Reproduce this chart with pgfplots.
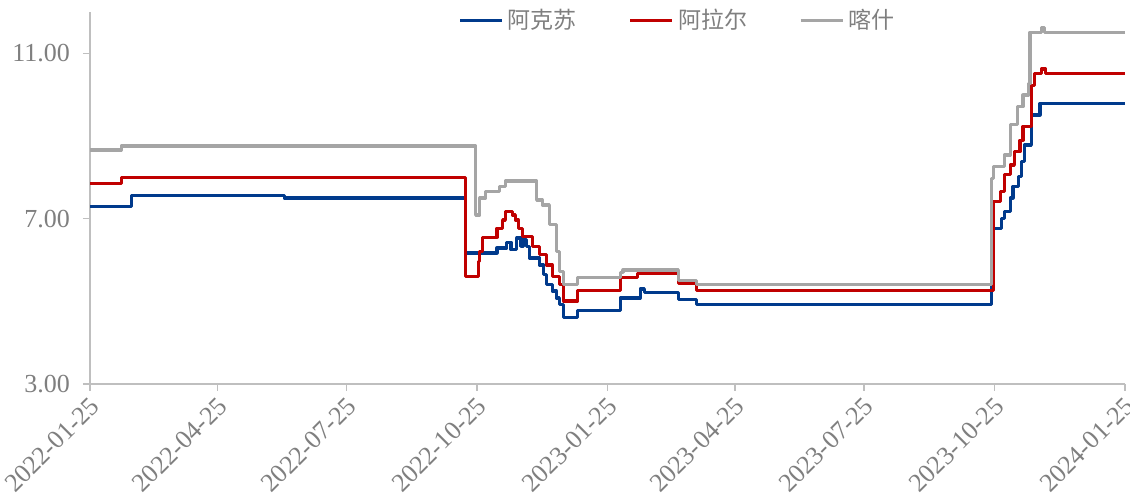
\documentclass[border=0pt]{standalone}
\usepackage{pgfplots}
\pgfplotsset{compat=1.18}
\usepackage{fontspec}
\setmainfont{Liberation Serif}
\newfontfamily\cjk{Noto Sans CJK SC}
\definecolor{cblue}{HTML}{003A8C}
\definecolor{cred}{HTML}{C00000}
\definecolor{cgray}{HTML}{A5A5A5}
\definecolor{axgray}{HTML}{BFBFBF}
\definecolor{txtgray}{HTML}{7F7F7F}
\begin{document}
\begin{tikzpicture}
\begin{axis}[
  at={(45pt,57pt)}, anchor=south west,
  scale only axis, width=517.5pt, height=186pt,
  xmin=0, xmax=730, ymin=3, ymax=12,
  axis x line*=bottom, axis y line*=left,
  axis line style={axgray, line width=0.8pt},
  xtick={0,90,181,273,365,455,546,638,730},
  xticklabels={2022-01-25,2022-04-25,2022-07-25,2022-10-25,2023-01-25,2023-04-25,2023-07-25,2023-10-25,2024-01-25},
  ytick={3,7,11},
  yticklabel style={/pgf/number format/.cd, fixed, fixed zerofill, precision=2, /tikz/.cd},
  /pgf/number format/assume math mode=true,
  tick align=outside, major tick length=3.5pt,
  tick style={axgray, line width=0.8pt},
  ticklabel style={font=\fontsize{13}{15}\selectfont, text=txtgray},
  xticklabel style={rotate=45, anchor=north east, inner sep=1pt, xshift=-1pt},
  yticklabel style={xshift=-3pt},
  legend style={at={(0.35,1.03)}, anchor=north west, draw=none, fill=none,
    legend columns=3, font=\cjk\fontsize{11.5}{13}\selectfont, text=txtgray,
    /tikz/every even column/.append style={column sep=24pt}},
  legend image code/.code={\draw[#1] (0pt,0pt) -- (21pt,0pt);},
  every axis plot/.append style={const plot, line width=1.6pt, line join=round},
]
\addplot[cblue] coordinates {(0,7.30) (29,7.56) (137,7.50) (265,6.17) (287,6.29) (294,6.43) (297,6.25) (301,6.53) (304,6.33) (306,6.49) (308,6.33) (310,6.05) (317,5.88) (320,5.64) (322,5.40) (326,5.25) (329,5.08) (331,4.92) (334,4.60) (344,4.77) (374,5.08) (388,5.30) (391,5.22) (415,5.04) (428,4.92) (636,6.77) (643,7.01) (645,7.17) (649,7.50) (651,7.78) (655,8.02) (657,8.38) (659,8.78) (664,9.51) (670,9.79) (730,9.79)};
\addlegendentry{阿克苏}
\addplot[cred] coordinates {(0,7.86) (22,8.00) (265,5.60) (274,5.97) (275,6.20) (277,6.55) (287,6.77) (291,6.97) (293,7.17) (298,7.09) (300,6.97) (302,6.77) (305,6.57) (312,6.33) (317,6.13) (322,5.88) (326,5.60) (331,5.40) (334,5.01) (344,5.26) (374,5.58) (386,5.68) (415,5.44) (428,5.26) (637,7.42) (642,7.66) (645,8.06) (649,8.30) (652,8.62) (656,8.90) (658,9.23) (664,10.23) (666,10.52) (671,10.62) (674,10.52) (730,10.52)};
\addlegendentry{阿拉尔}
\addplot[cgray] coordinates {(0,8.66) (22,8.76) (272,7.09) (275,7.50) (279,7.66) (289,7.78) (293,7.91) (315,7.45) (319,7.33) (324,6.85) (329,6.21) (331,5.73) (334,5.40) (344,5.58) (374,5.70) (376,5.76) (415,5.50) (428,5.40) (636,7.98) (637,8.26) (645,8.54) (649,9.27) (654,9.71) (658,9.99) (662,10.27) (663,11.51) (671,11.62) (673,11.51) (730,11.51)};
\addlegendentry{喀什}
\end{axis}
\pgfresetboundingbox
\useasboundingbox (0pt,0pt) rectangle (565pt,249pt);
\end{tikzpicture}
\end{document}
